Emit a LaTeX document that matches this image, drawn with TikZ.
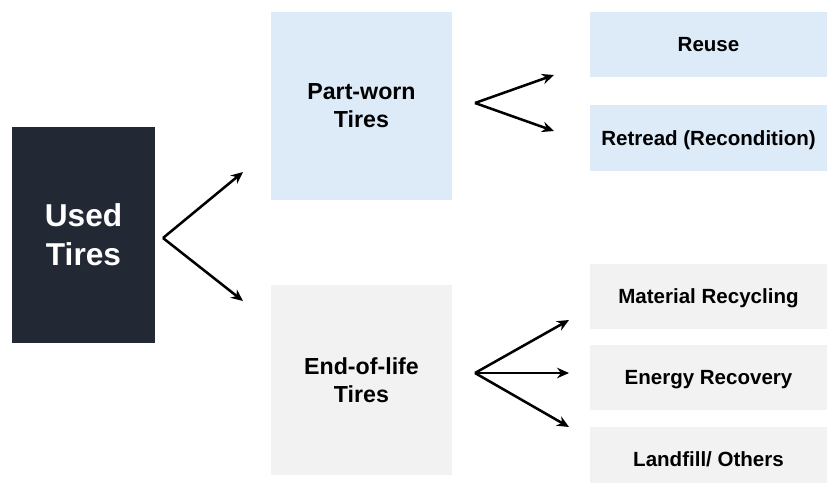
\documentclass[tikz,border=0pt]{standalone}
\usepackage{fontspec}
\setmainfont{Liberation Sans}
\usepackage{tikz}
\usetikzlibrary{backgrounds,arrows.meta}
\definecolor{darkslate}{HTML}{232934}
\definecolor{paleblue}{HTML}{DDEAF8}
\definecolor{palegray}{HTML}{F2F2F2}
\pgfdeclarelayer{edgelayer}
\pgfdeclarelayer{nodelayer}
\pgfsetlayers{edgelayer,nodelayer,main}
\tikzstyle{none}=[inner sep=0pt]
\tikzstyle{root}=[rectangle,fill=darkslate,text=white,minimum width=3.575cm,minimum height=5.375cm,align=center,font=\bfseries\fontsize{22.5}{27.5}\selectfont]
\tikzstyle{reusable}=[rectangle,fill=paleblue,minimum width=4.525cm,minimum height=4.675cm,align=center,font=\bfseries\fontsize{16.5}{20}\selectfont]
\tikzstyle{waste}=[rectangle,fill=palegray,minimum width=4.525cm,minimum height=4.725cm,align=center,font=\bfseries\fontsize{16.5}{20}\selectfont]
\tikzstyle{bluefate}=[rectangle,fill=paleblue,minimum width=5.925cm,minimum height=1.625cm,text depth=0pt,font=\bfseries\fontsize{14.6}{17}\selectfont]
\tikzstyle{grayfate}=[rectangle,fill=palegray,minimum width=5.925cm,minimum height=1.625cm,text depth=0pt,font=\bfseries\fontsize{14.6}{17}\selectfont]
\tikzstyle{outarrow}=[->, >={Stealth[length=8.5pt,width=7.5pt]}, line width=1.8pt]

\begin{document}
\begin{tikzpicture}[x=0.025cm,y=-0.025cm]
	\useasboundingbox (0,0) rectangle (827,482);
	\begin{pgfonlayer}{nodelayer}
		\node [style=root] (used) at (83.5, 235) {Used\\Tires};
		\node [style=reusable] (pw) at (361.5, 106) {Part-worn\\Tires};
		\node [style=waste] (eol) at (361.5, 380) {End-of-life\\Tires};

		\node [style=bluefate] (reuse) at (708.5, 44.5) {Reuse};
		\node [style=bluefate] (retread) at (708.5, 138) {Retread (Recondition)};
		\node [style=grayfate] (recyc) at (708.5, 296) {Material Recycling};
		\node [style=grayfate] (energy) at (708.5, 377.5) {Energy Recovery};
		\node [style=grayfate] (landfill) at (708.5, 459.5) {Landfill/ Others};

		\node [style=none] (u0) at (163, 238) {};
		\node [style=none] (u1) at (243, 172) {};
		\node [style=none] (u2) at (243, 301) {};
		\node [style=none] (p0) at (475, 103) {};
		\node [style=none] (p1) at (554, 75) {};
		\node [style=none] (p2) at (554, 131) {};
		\node [style=none] (e0) at (475, 373) {};
		\node [style=none] (e1) at (569, 320) {};
		\node [style=none] (e2) at (569, 373) {};
		\node [style=none] (e3) at (569, 427) {};
	\end{pgfonlayer}
	\begin{pgfonlayer}{edgelayer}
		\draw [style=outarrow] (u0.center) to (u1.center);
		\draw [style=outarrow] (u0.center) to (u2.center);
		\draw [style=outarrow] (p0.center) to (p1.center);
		\draw [style=outarrow] (p0.center) to (p2.center);
		\draw [style=outarrow] (e0.center) to (e1.center);
		\draw [style=outarrow] (e0.center) to (e2.center);
		\draw [style=outarrow] (e0.center) to (e3.center);
	\end{pgfonlayer}
\end{tikzpicture}
\end{document}
